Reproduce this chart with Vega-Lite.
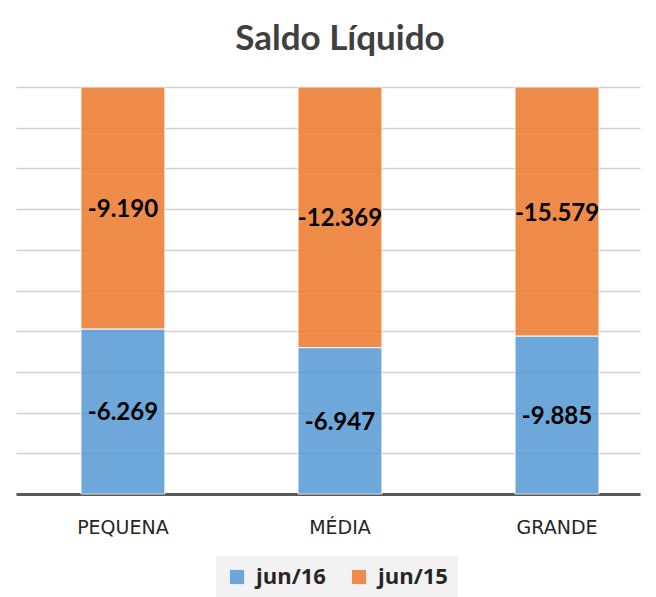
{
  "$schema": "https://vega.github.io/schema/vega-lite/v6.json",
  "width": 624,
  "height": 407,
  "autosize": {"type": "none"},
  "padding": {"left": 16, "top": 87, "right": 16, "bottom": 103},
  "config": {
    "font": "Lato",
    "view": {"stroke": null},
    "locale": {"number": {"decimal": ",", "thousands": ".", "grouping": [3], "currency": ["R$", ""], "minus": "-"}}
  },
  "title": {"text": "Saldo Líquido", "fontSize": 35, "fontWeight": "bold", "color": "#404040", "anchor": "middle", "dx": 12, "offset": 30, "font": "Lato"},
  "data": {
    "values": [
      {"porte": "PEQUENA", "serie": "jun/16", "valor": -6269},
      {"porte": "PEQUENA", "serie": "jun/15", "valor": -9190},
      {"porte": "MÉDIA", "serie": "jun/16", "valor": -6947},
      {"porte": "MÉDIA", "serie": "jun/15", "valor": -12369},
      {"porte": "GRANDE", "serie": "jun/16", "valor": -9885},
      {"porte": "GRANDE", "serie": "jun/15", "valor": -15579}
    ]
  },
  "transform": [
    {"stack": "valor", "groupby": ["porte"], "offset": "normalize", "sort": [{"field": "serie", "order": "descending"}], "as": ["y0", "y1"]},
    {"calculate": "(datum.y0 + datum.y1) / 2", "as": "ymid"}
  ],
  "encoding": {
    "x": {
      "field": "porte", "type": "nominal", "sort": ["PEQUENA", "MÉDIA", "GRANDE"],
      "scale": {"paddingInner": 0.613, "paddingOuter": 0.244, "align": 0.613},
      "axis": {"title": null, "labelAngle": 0, "ticks": false, "domainColor": "#595959", "domainWidth": 3, "labelFontSize": 19, "labelFont": "DejaVu Sans", "labelColor": "#262626", "labelPadding": 24, "grid": false}
    }
  },
  "layer": [
    {
      "mark": {"type": "bar", "opacity": 0.88, "stroke": "white", "strokeWidth": 1},
      "encoding": {
        "y": {"field": "y0", "type": "quantitative", "scale": {"domain": [0, 1], "nice": false},
          "axis": {"title": null, "labels": false, "ticks": false, "domain": false, "grid": true, "values": [0, 0.1, 0.2, 0.3, 0.4, 0.5, 0.6, 0.7, 0.8, 0.9, 1], "gridColor": "#d0d0d0", "gridWidth": 1.5}},
        "y2": {"field": "y1"},
        "color": {"field": "serie", "type": "nominal",
          "scale": {"domain": ["jun/16", "jun/15"], "range": ["#5B9BD5", "#ED7D31"]},
          "legend": {"title": null, "orient": "none", "direction": "horizontal", "legendX": 200, "legendY": 469, "fillColor": "#f2f2f2", "padding": 10, "labelFontSize": 22, "labelFont": "Open Sans", "labelFontWeight": "bold", "labelColor": "#262626", "symbolType": "square", "symbolSize": 200, "symbolStrokeWidth": 0, "symbolOpacity": 0.88, "columnPadding": 22, "labelOffset": 8}}
      }
    },
    {
      "mark": {"type": "text", "fontSize": 24, "fontWeight": "bold", "color": "black", "baseline": "middle", "align": "center", "dy": 2},
      "encoding": {
        "y": {"field": "ymid", "type": "quantitative"},
        "text": {"field": "valor", "type": "quantitative", "format": ",.0f"}
      }
    }
  ]
}
